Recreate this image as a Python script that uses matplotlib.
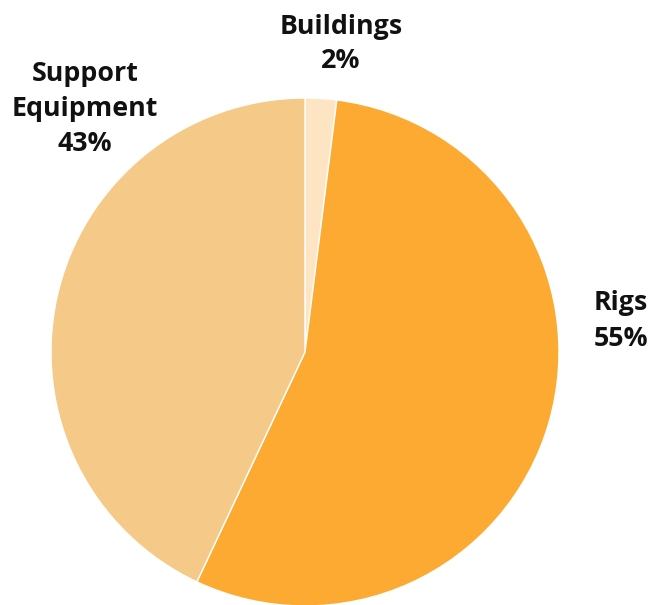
import matplotlib
matplotlib.use("Agg")
import matplotlib.pyplot as plt

categories = ["Buildings", "Rigs", "Support\nEquipment"]
values = [2, 55, 43]
colors = ["#FDE5C4", "#FDAA33", "#F5C987"]

W, H = 666, 605
cx, cy, R = 305, 352, 254

fig = plt.figure(figsize=(W / 100, H / 100), dpi=100)
ax = fig.add_axes([0, 0, 1, 1])
ax.pie(values, colors=colors, startangle=90, counterclock=False, radius=1,
       wedgeprops=dict(edgecolor="white", linewidth=1))
ax.set_xlim(-cx / R, (W - cx) / R)
ax.set_ylim(-(H - cy) / R, cy / R)
ax.set_aspect("equal")
ax.axis("off")

def px(x, y):
    return (x - cx) / R, (cy - y) / R

label_pos = [(341, 44), (621, 321), (85, 109)]
for cat, val, (x, y) in zip(categories, values, label_pos):
    ax.text(*px(x, y), f"{cat}\n{val}%", ha="center", va="center",
            fontsize=19.3, fontweight="bold", family="Open Sans",
            linespacing=1.45, color="#111111")

fig.savefig("out.png", dpi=100)
